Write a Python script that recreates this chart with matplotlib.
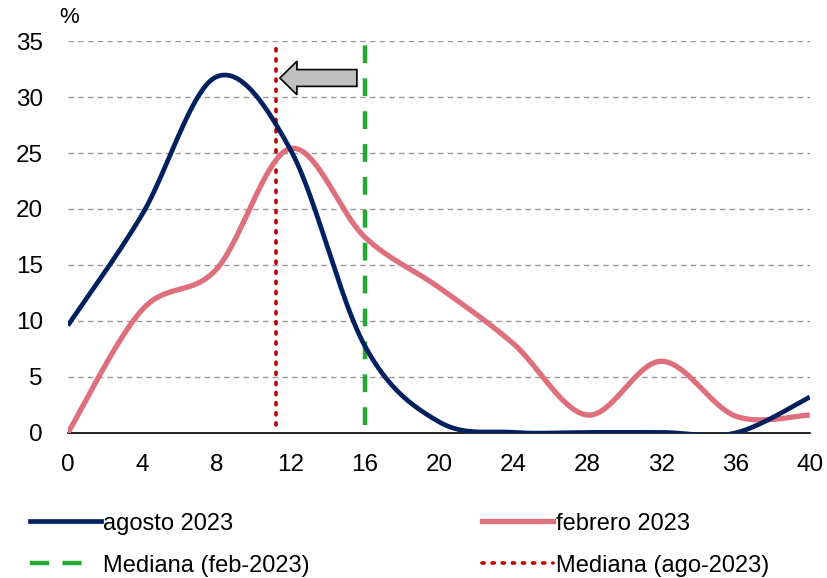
import numpy as np
import matplotlib
matplotlib.use("Agg")
import matplotlib.pyplot as plt
from matplotlib.patches import FancyArrow
from matplotlib.lines import Line2D

plt.rcParams['font.family'] = ['Liberation Sans', 'DejaVu Sans']

# Data
x_vals = [0, 4, 8, 12, 16, 20, 24, 28, 32, 36, 40]
agosto_2023 = [9.6, 19.5, 31.8, 25.3, 7.8, 1.0, 0.05, 0.05, 0.05, 0.0, 3.2]
febrero_2023 = [0.0, 11.0, 14.6, 25.4, 17.5, 13.0, 8.0, 1.6, 6.4, 1.5, 1.6]
mediana_feb = 16.0
mediana_ago = 11.2
x_ticks = list(range(0, 41, 4))
y_ticks = list(range(0, 36, 5))


def excel_smooth(xs, ys, n=40):
    xs = np.asarray(xs, float)
    ys = np.asarray(ys, float)
    pts = np.column_stack([xs, ys])
    out = []
    m = len(pts)
    for i in range(m - 1):
        p0 = pts[i - 1] if i > 0 else pts[i]
        p1 = pts[i]
        p2 = pts[i + 1]
        p3 = pts[i + 2] if i + 2 < m else pts[i + 1]
        c1 = p1 + (p2 - p0) / 6.0
        c2 = p2 - (p3 - p1) / 6.0
        t = np.linspace(0, 1, n)[:, None]
        seg = ((1 - t) ** 3) * p1 + 3 * t * (1 - t) ** 2 * c1 + 3 * t ** 2 * (1 - t) * c2 + t ** 3 * p2
        if i > 0:
            seg = seg[1:]
        out.append(seg)
    out = np.vstack(out)
    return out[:, 0], out[:, 1]


fig = plt.figure(figsize=(8.28, 5.78), dpi=100)
ax = fig.add_axes([0.082, 0.251, 0.896, 0.678])

navy = '#002060'
pink = '#DE6F7C'
green = '#22AA33'
red = '#C00000'
green_ls = (0, (4.0, 3.4))
red_ls = (0, (0.6, 2.2))

ax.set_xlim(0, 40)
ax.set_ylim(0, 35)
ax.set_yticks(y_ticks)
ax.set_xticks(x_ticks)
for yv in y_ticks[1:]:
    ax.axhline(yv, color='#999999', lw=1.0, ls=(0, (4, 3)), zorder=0)

ax.axvline(mediana_feb, ymin=0.02, ymax=1, color=green, lw=3.2, ls=green_ls, zorder=2)
ax.axvline(mediana_ago, ymin=0.02, ymax=1, color=red, lw=2.6, ls=red_ls,
           dash_capstyle='round', zorder=2)

bx, by = excel_smooth(x_vals, agosto_2023)
fx, fy = excel_smooth(x_vals, febrero_2023)
ax.plot(fx, fy, color=pink, lw=3.8, solid_capstyle='butt', zorder=3)
ax.plot(bx, by, color=navy, lw=3.4, solid_capstyle='butt', zorder=4)

arrow = FancyArrow(15.58, 31.7, -4.15, 0, width=1.5, head_width=3.0, head_length=0.92,
                   length_includes_head=True, facecolor='#C0C0C0', edgecolor='black',
                   lw=1.2, zorder=5)
ax.add_patch(arrow)

for s in ['left', 'right', 'top']:
    ax.spines[s].set_visible(False)
ax.spines['bottom'].set_color('black')
ax.spines['bottom'].set_linewidth(1.2)
ax.tick_params(axis='both', length=0, labelsize=17.5)
ax.tick_params(axis='y', pad=18)
ax.tick_params(axis='x', pad=15)

fig.text(0.072, 0.952, '%', fontsize=16, ha='left', va='bottom')

handles = [
    Line2D([], [], color=navy, lw=3.4),
    Line2D([], [], color=green, lw=3.2, ls=(0, (4.3, 3.0, 4.3, 12))),
    Line2D([], [], color=pink, lw=3.8),
    Line2D([], [], color=red, lw=2.6, ls=red_ls, dash_capstyle='round'),
]
labels = ['agosto 2023', 'Mediana (feb-2023)', 'febrero 2023', 'Mediana (ago-2023)']
fig.legend(handles, labels, ncol=2, loc='upper left', bbox_to_anchor=(0.036, 0.113),
           frameon=False, fontsize=17, handlelength=3.0, handletextpad=0.12,
           columnspacing=7.3, labelspacing=0.85, borderaxespad=0, borderpad=0)

fig.savefig('out.png', dpi=100)
